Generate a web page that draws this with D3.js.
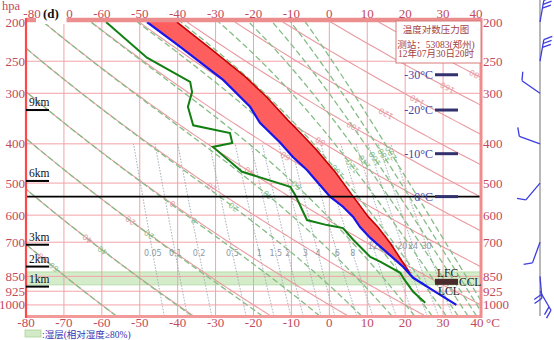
<!DOCTYPE html>
<html><head><meta charset="utf-8">
<script src="https://cdn.jsdelivr.net/npm/d3@7"></script>
<style>body{margin:0;background:#fff}svg{display:block}</style>
</head><body>
<svg id="c" width="554" height="340"></svg>
<script>
// ---------------- data ----------------
const pressureTicks = [200, 250, 300, 400, 500, 600, 700, 850, 925, 1000];
const tempTicks = [-80, -70, -60, -50, -40, -30, -20, -10, 0, 10, 20, 30, 40];
// top labels as visible in the reference (the "-7" of -70 is hidden behind the "(d)" box)
const topTickLabels = ["-80", "0", "-60", "-50", "-40", "-30", "-20", "-10", "0", "10", "20", "30", "40"];

// environment temperature (blue)
const envP = [200, 230, 244, 278, 324, 355, 397, 431, 464, 499, 540, 572, 606, 642, 683, 765, 806, 857, 934, 1000];
const envT = [-48.1, -39.4, -35.9, -28.0, -20.9, -18.3, -13.0, -9.6, -5.9, -3.0, 0.2, 3.6, 6.3, 8.1, 10.8, 16.8, 19.5, 22.1, 28.4, 33.5];
// dew point (green)
const dewP = [200, 245, 281, 298, 324, 360, 376, 398, 407, 469, 511, 535, 617, 635, 646, 690, 761, 782, 833, 858, 928, 988];
const dewT = [-58.9, -48.1, -36.7, -36.2, -37.3, -35.9, -26.2, -25.6, -30.7, -23.0, -10.3, -9.0, -5.9, -0.6, 3.6, 6.3, 10.8, 13.4, 18.7, 19.5, 22.1, 25.3];
// parcel state curve (red)
const parcelP = [835, 770, 702, 642, 606, 540, 470, 414, 376, 349, 306, 273, 234, 200];
const parcelT = [21.3, 18.8, 16.0, 12.8, 10.3, 6.3, 1.6, -3.4, -7.6, -11.0, -16.6, -22.2, -31.0, -40.2];

const dryThetas = [-60, -40, -20, 0, 20, 40, 60, 80, 100, 120, 140, 160, 180, 200];
const moistThetas = [-60, -40, -20, 0, 20, 40, 60, 80, 100, 120, 140, 160, 180, 200];
const mixRatios = [0.05, 0.1, 0.2, 0.5, 1, 1.5, 2, 3, 4, 6, 8, 12, 16, 20, 24, 30];
const mixLabels = ["0.05", "0.1", "0.2", "0.5", "1", "1.5", "2", "3", "4", "6", "8", "12", "16", "20", "24", "30"];

const heightLabels = ["9km", "6km", "3km", "2km", "1km"];
const heightP = [330, 494, 710, 804, 901];

const isoLevelLabels = ["-30°C", "-20°C", "-10°C", "0°C"];
const isoLevelP = [270, 330, 423, 540];
const zeroLineP = 540;

const wetLayerP = [829, 892];
const markerP = 877;
const markerLabels = ["LFC", "LCL", "CCL"];

const windP = [200, 250, 300, 400, 500, 700, 850, 925];
const windDir = [10, 10, -55, -70, -140, -160, 175, 150];
const windFeathers = [3, 3, 1, 1, 1, 1, 2, 2];

const infoLines = ["温度对数压力图", "测站：53083(郑州)", "12年07月30日20时"];
const legendText = ":湿层(相对湿度≥80%)";

// ---------------- drawing ----------------
const svg = d3.select("#c");
const x = d3.scaleLinear().domain([-80, 40]).range([26, 481]);
const y = d3.scaleLog().domain([200, 1065]).range([22, 316]);
const serif = '"Liberation Serif","Times New Roman",serif';
const cjk = '"Liberation Serif","Noto Sans CJK SC",serif';
const axisCol = "#bf4a5c";

svg.append("rect").attr("width", 554).attr("height", 340).attr("fill", "#fff");
svg.append("defs").append("clipPath").attr("id", "plot")
  .append("rect").attr("x", 26).attr("y", 22).attr("width", 455).attr("height", 294);
const plot = svg.append("g").attr("clip-path", "url(#plot)");
const line = d3.line().x(d => x(d[0])).y(d => y(d[1]));

// wet layer band
plot.append("rect").attr("x", 26).attr("width", 455)
  .attr("y", y(wetLayerP[0])).attr("height", y(wetLayerP[1]) - y(wetLayerP[0]))
  .attr("fill", "#d4ecca").attr("stroke", "#b9dcab").attr("stroke-width", 1);

// grid
plot.selectAll(".isoT").data(tempTicks.slice(1, -1)).join("line")
  .attr("x1", d => x(d)).attr("x2", d => x(d)).attr("y1", 22).attr("y2", 316)
  .attr("stroke", "#f3a2a8").attr("stroke-width", 1);
plot.selectAll(".isoP").data(pressureTicks.slice(1)).join("line")
  .attr("x1", 26).attr("x2", 481).attr("y1", d => y(d)).attr("y2", d => y(d))
  .attr("stroke", "#f3a2a8").attr("stroke-width", 1);

// thermodynamic helpers for reference lines
const pSamples = d3.range(1065, 199, -5);
function dryT(th, p) { return (th + 273.15) * Math.pow(p / 1000, 0.2857) - 273.15; }
function thetaSe(Tc, p) {
  const T = Tc + 273.15;
  const es = 6.112 * Math.exp(17.67 * Tc / (Tc + 243.5));
  const rs = 0.622 * es / Math.max(p - es, 1e-3);
  return T * Math.pow(1000 / p, 0.2857) * Math.exp(2.5e6 * rs / (1004 * T));
}
function moistT(th, p) {
  const target = th + 273.15;
  let lo = -130, hi = 50;
  for (let i = 0; i < 50; i++) {
    const m = (lo + hi) / 2;
    if (thetaSe(m, p) > target) hi = m; else lo = m;
  }
  return (lo + hi) / 2;
}
function mixT(w, p) {
  const e = w * p / (622 + w);
  const L = Math.log(e / 6.112);
  let t = 243.5 * L / (17.67 - L);
  if (t < 0) t = 272.62 * L / (22.46 - L);
  return t;
}

// mixing ratio lines
const mixP = d3.range(1065, 399, -5);
plot.selectAll(".mix").data(mixRatios).join("path")
  .attr("d", w => line(mixP.map(p => [mixT(w, p), p])))
  .attr("fill", "none").attr("stroke", "#94a2ad").attr("stroke-width", 0.9)
  .attr("stroke-dasharray", "1.5,1.5");

// dry adiabats
const dryPaths = dryThetas.map(th => pSamples.map(p => [dryT(th, p), p]));
plot.selectAll(".dry").data(dryPaths).join("path")
  .attr("d", line).attr("fill", "none").attr("stroke", "#e99aa0").attr("stroke-width", 1.1);
// moist adiabats
const moistPaths = moistThetas.map(th => pSamples.map(p => [moistT(th, p), p]));
plot.selectAll(".moist").data(moistPaths).join("path")
  .attr("d", line).attr("fill", "none").attr("stroke", "#86bd86").attr("stroke-width", 1.3)
  .attr("stroke-dasharray", "6,3");

// labels along guides
function labelAlong(paths, vals, A, B, col, g) {
  paths.forEach((pts, i) => {
    const px = pts.map(d => [x(d[0]), y(d[1])]);
    const f = q => (B[0] - A[0]) * (q[1] - A[1]) - (B[1] - A[1]) * (q[0] - A[0]);
    for (let k = 1; k < px.length; k++) {
      const a = px[k - 1], b = px[k];
      if (f(a) * f(b) <= 0) {
        const t = f(a) / (f(a) - f(b));
        const cx = a[0] + t * (b[0] - a[0]), cy = a[1] + t * (b[1] - a[1]);
        if (cx < 30 || cx > 477 || cy < 26 || cy > 312) break;
        const ang = Math.atan2(b[1] - a[1], b[0] - a[0]) * 180 / Math.PI;
        g.append("text").attr("transform", `translate(${cx},${cy}) rotate(${ang})`)
          .attr("text-anchor", "middle").attr("dy", "0.35em")
          .attr("font-family", "DejaVu Sans,sans-serif").attr("font-size", 8)
          .attr("fill", col).text(vals[i]);
        break;
      }
    }
  });
}
labelAlong(dryPaths, dryThetas, [130, 222], [470, 78], "#e79aa0", plot);
labelAlong(moistPaths, moistThetas, [55, 268], [400, 150], "#8cc08c", plot);

// mixing ratio labels
plot.selectAll(".mixlab").data(mixRatios).join("text")
  .attr("x", w => x(mixT(w, w >= 12 ? 715 : 745)))
  .attr("y", (w) => y(w >= 12 ? 715 : 745)).attr("dy", "0.35em")
  .attr("text-anchor", "middle").attr("font-family", "DejaVu Sans,sans-serif")
  .attr("font-size", 8).attr("fill", "#8e9aa4")
  .text((w, i) => mixLabels[i]);

// CAPE area
const parcelPts = parcelP.map((p, i) => [parcelT[i], p]);
const envPts = envP.map((p, i) => [envT[i], p]);
const envAt = p => {
  for (let i = 1; i < envP.length; i++) {
    if (p <= envP[i]) {
      const t = (Math.log(p) - Math.log(envP[i - 1])) / (Math.log(envP[i]) - Math.log(envP[i - 1]));
      return envT[i - 1] + t * (envT[i] - envT[i - 1]);
    }
  }
  return envT[envT.length - 1];
};
const pTop = d3.min(parcelP), pBot = d3.max(parcelP);
const envSeg = envPts.filter(d => d[1] > pTop && d[1] < pBot);
const poly = parcelPts.concat([[envAt(pTop), pTop]], envSeg, [[envAt(pBot), pBot]]);
plot.append("path").attr("d", line(poly) + "Z").attr("fill", "#ff5e5e").attr("stroke", "none");
plot.append("path").attr("d", line(parcelPts)).attr("fill", "none").attr("stroke", "#c40000").attr("stroke-width", 1.6);
plot.append("path").attr("d", line(envPts)).attr("fill", "none").attr("stroke", "#1616ea").attr("stroke-width", 2.2);
plot.append("path").attr("d", line(dewP.map((p, i) => [dewT[i], p]))).attr("fill", "none").attr("stroke", "#127f12").attr("stroke-width", 2);

// zero-degree line
svg.append("line").attr("x1", 26).attr("x2", 481).attr("y1", y(zeroLineP)).attr("y2", y(zeroLineP))
  .attr("stroke", "#000").attr("stroke-width", 1.6);

// frame
svg.append("line").attr("x1", 26).attr("x2", 481).attr("y1", 20).attr("y2", 20).attr("stroke", "#ec8e8e").attr("stroke-width", 4.5);
svg.append("line").attr("x1", 26).attr("x2", 481).attr("y1", 316.5).attr("y2", 316.5).attr("stroke", "#f29a9a").attr("stroke-width", 3);
svg.append("line").attr("x1", 481).attr("x2", 481).attr("y1", 18).attr("y2", 318).attr("stroke", "#f08c8c").attr("stroke-width", 3);
svg.append("line").attr("x1", 26).attr("x2", 26).attr("y1", 18).attr("y2", 318).attr("stroke", "#ff4848").attr("stroke-width", 2.2);

// white cover at top-left of top axis
svg.append("rect").attr("x", 36).attr("y", 2).attr("width", 30.5).attr("height", 22).attr("fill", "#fff");

// top tick labels
svg.selectAll(".tl").data(tempTicks).join("text")
  .attr("x", (d, i) => i === 0 ? 32 : i === 1 ? 69.5 : d === 40 ? 476 : x(d))
  .attr("y", 17.5).attr("text-anchor", "middle")
  .attr("font-family", serif).attr("font-size", 13).attr("fill", axisCol)
  .text((d, i) => topTickLabels[i]);
svg.append("text").attr("x", 43).attr("y", 17.5).attr("font-family", serif).attr("font-size", 13)
  .attr("font-weight", "bold").attr("fill", "#111").text("(d)");

// bottom tick labels
svg.selectAll(".bl").data(tempTicks).join("text")
  .attr("x", d => d === 40 ? 477 : x(d)).attr("y", 326.5).attr("text-anchor", "middle")
  .attr("font-family", serif).attr("font-size", 13).attr("fill", axisCol).text(d => d);
svg.append("text").attr("x", 486).attr("y", 326.5).attr("font-family", serif).attr("font-size", 13)
  .attr("fill", axisCol).text("°C");

// pressure labels
svg.selectAll(".pl").data(pressureTicks).join("text")
  .attr("x", 25).attr("y", d => y(d)).attr("dy", "0.35em").attr("text-anchor", "end")
  .attr("font-family", serif).attr("font-size", 13).attr("fill", axisCol).text(d => d);
svg.selectAll(".pr").data(pressureTicks).join("text")
  .attr("x", 483).attr("y", d => y(d)).attr("dy", "0.35em")
  .attr("font-family", serif).attr("font-size", 13).attr("fill", axisCol).text(d => d);
svg.append("text").attr("x", 2).attr("y", 10).attr("font-family", serif).attr("font-size", 12.5)
  .attr("fill", axisCol).text("hpa");

// height markers
heightLabels.forEach((lab, i) => {
  const yy = y(heightP[i]);
  svg.append("line").attr("x1", 26).attr("x2", 49).attr("y1", yy).attr("y2", yy)
    .attr("stroke", "#000").attr("stroke-width", 2);
  svg.append("text").attr("x", 29).attr("y", yy - 4).attr("font-family", serif)
    .attr("font-size", 11.5).attr("fill", "#111").text(lab);
});

// info box
svg.append("rect").attr("x", 396).attr("y", 21).attr("width", 85).attr("height", 42)
  .attr("fill", "#fff").attr("stroke", "#d87a7a").attr("stroke-width", 1);
[33, 48, 57].forEach((yy, i) => {
  svg.append("text").attr("x", 436).attr("y", yy).attr("text-anchor", "middle")
    .attr("font-family", cjk).attr("font-size", 9.5).attr("fill", "#a4423f").text(infoLines[i]);
});

// temperature level markers
isoLevelLabels.forEach((lab, i) => {
  const yy = y(isoLevelP[i]);
  svg.append("line").attr("x1", 435).attr("x2", 458).attr("y1", yy).attr("y2", yy)
    .attr("stroke", "#32326e").attr("stroke-width", 3);
  svg.append("text").attr("x", 433).attr("y", yy).attr("dy", "0.35em").attr("text-anchor", "end")
    .attr("font-family", serif).attr("font-size", 12).attr("fill", "#4646a6").text(lab);
});

// LFC / LCL / CCL marker
const my = y(markerP);
svg.append("rect").attr("x", 435).attr("y", my - 3).attr("width", 23).attr("height", 6).attr("fill", "#4a2c2c");
svg.append("text").attr("x", 437).attr("y", my - 5).attr("font-family", serif).attr("font-size", 11.5).attr("fill", "#222").text(markerLabels[0]);
svg.append("text").attr("x", 438).attr("y", my + 13).attr("font-family", serif).attr("font-size", 11.5).attr("fill", "#222").text(markerLabels[1]);
svg.append("text").attr("x", 459).attr("y", my + 4).attr("font-family", serif).attr("font-size", 11.5).attr("fill", "#222").text(markerLabels[2]);

// legend
svg.append("rect").attr("x", 25).attr("y", 330).attr("width", 16).attr("height", 7)
  .attr("fill", "#d2eac6").attr("stroke", "#aad39a").attr("stroke-width", 0.8);
svg.append("text").attr("x", 42).attr("y", 337.5).attr("font-family", cjk).attr("font-size", 9.5)
  .attr("fill", "#3434b2").text(legendText);

// wind barbs
const bx = 540;
svg.append("line").attr("x1", bx).attr("x2", bx).attr("y1", 0).attr("y2", 316)
  .attr("stroke", "#a0a0a0").attr("stroke-width", 1.5);
const gw = svg.append("g").attr("stroke", "#3c3ce0").attr("stroke-width", 1.3).attr("fill", "none");
windP.forEach((p, i) => {
  const a = windDir[i] * Math.PI / 180;
  const u = [Math.sin(a), -Math.cos(a)];
  const by = y(p);
  const tip = [bx + 22 * u[0], by + 22 * u[1]];
  gw.append("line").attr("x1", bx).attr("y1", by).attr("x2", tip[0]).attr("y2", tip[1]);
  const b = a + Math.PI / 3;
  const v = [Math.sin(b), -Math.cos(b)];
  for (let k = 0; k < windFeathers[i]; k++) {
    const s = [tip[0] - 4 * k * u[0], tip[1] - 4 * k * u[1]];
    gw.append("line").attr("x1", s[0]).attr("y1", s[1]).attr("x2", s[0] + 9 * v[0]).attr("y2", s[1] + 9 * v[1]);
  }
});
</script>
</body></html>
